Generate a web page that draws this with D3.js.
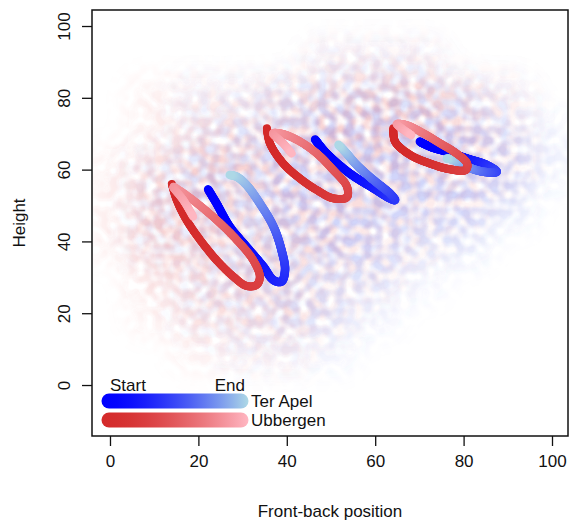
<!DOCTYPE html>
<html>
<head>
<meta charset="utf-8">
<script src="https://cdn.jsdelivr.net/npm/d3@7"></script>
<style>
  html, body { margin: 0; padding: 0; background: #fff; }
  svg { display: block; }
  text { font-family: "Liberation Sans", Arial, sans-serif; fill: #111; }
</style>
</head>
<body>
<svg id="chart" width="573" height="530"></svg>
<script>
// ---------------- data ----------------
const xTicks = [0, 20, 40, 60, 80, 100];
const yTicks = [0, 20, 40, 60, 80, 100];
const xLabel = "Front-back position";
const yLabel = "Height";
const seriesNames = ["Ter Apel", "Ubbergen"];
const legendEnds = ["Start", "End"];

// background point cloud, read as relative density on a 10-unit grid
const gridX = [0, 10, 20, 30, 40, 50, 60, 70, 80, 90, 100];
const gridY = [100, 90, 80, 70, 60, 50, 40, 30, 20, 10];
const ubbergenDensity = [
  [0, 0, 0, 0, 0, 0, 0, 0, 0, 0, 0],
  [0, 0, 0, 0, 0, 1, 1, 1, 0, 0, 0],
  [0, 1, 1, 1, 2, 2, 3, 3, 2, 1, 0],
  [0, 1, 2, 2, 2, 3, 3, 3, 2, 1, 0],
  [1, 2, 3, 3, 2, 2, 2, 2, 2, 1, 0],
  [1, 3, 3, 2, 2, 2, 2, 1, 1, 0, 0],
  [1, 3, 3, 2, 2, 2, 1, 1, 0, 0, 0],
  [0, 2, 2, 2, 2, 1, 1, 0, 0, 0, 0],
  [0, 1, 2, 2, 2, 1, 0, 0, 0, 0, 0],
  [0, 0, 1, 1, 1, 0, 0, 0, 0, 0, 0]
];
const terApelDensity = [
  [0, 0, 0, 0, 0, 0, 0, 0, 0, 0, 0],
  [0, 0, 0, 0, 0, 1, 1, 1, 0, 0, 0],
  [0, 0, 1, 1, 2, 2, 2, 2, 2, 1, 0],
  [0, 0, 1, 2, 2, 3, 3, 3, 3, 2, 1],
  [0, 1, 2, 2, 3, 3, 3, 3, 3, 3, 1],
  [0, 1, 2, 2, 3, 3, 3, 3, 3, 2, 0],
  [0, 1, 1, 2, 2, 3, 3, 2, 2, 0, 0],
  [0, 0, 1, 2, 2, 2, 2, 1, 0, 0, 0],
  [0, 0, 1, 1, 2, 2, 1, 0, 0, 0, 0],
  [0, 0, 0, 1, 1, 1, 0, 0, 0, 0, 0]
];

// mean trajectories (front-back position, height), start -> end
const terApelLoops = [
  [[22.2,54.5],[24.1,50.6],[27.1,44.1],[30.9,38.5],[34.7,33.0],[37.0,29.2],[38.8,28.8],
   [39.6,32.0],[38.8,37.6],[37.0,44.1],[33.9,50.6],[30.9,55.7],[28.7,58.0],[27.1,58.5]],
  [[46.4,68.4],[49.0,64.5],[54.3,58.9],[59.6,54.8],[63.3,52.0],[64.5,51.5],
   [63.3,53.4],[59.6,57.1],[55.8,61.3],[53.2,65.0],[51.7,66.9]],
  [[70.1,67.8],[72.4,66.4],[76.2,65.0],[80.7,63.1],[85.2,61.3],[87.5,59.4],
   [84.5,59.4],[80.7,60.8],[77.7,62.7],[76.2,63.1]]
];
const ubbergenLoops = [
  [[14.0,56.0],[15.1,51.5],[17.3,46.0],[20.4,40.4],[24.1,34.8],[27.9,30.2],[30.9,27.6],
   [33.2,27.9],[33.9,30.2],[32.4,34.8],[28.7,40.4],[24.1,46.0],[19.6,50.7],[16.2,53.8],
   [14.3,55.2],[16.6,51.5],[18.8,46.9]],
  [[35.5,71.5],[36.2,67.3],[39.2,61.7],[43.0,57.5],[46.8,54.3],[50.5,52.0],[53.6,52.3],
   [53.6,55.3],[50.5,59.9],[46.8,64.5],[43.0,67.8],[39.2,69.9],[36.9,70.1],[39.2,67.3],
   [41.1,64.5]],
  [[64.1,71.5],[64.5,67.8],[67.9,64.1],[72.4,61.7],[76.9,60.1],[80.5,59.9],[80.8,61.7],
   [78.4,64.5],[74.7,67.3],[70.9,70.1],[67.1,72.4],[64.9,72.7],[68.2,69.6]]
];

const terApelColors = ["#0000FF", "#ADD8E6"];
const ubbergenColors = ["#D42A2A", "#FFB6C1"];

// ---------------- layout ----------------
const W = 573, H = 530;
const plot = { left: 92, right: 568, top: 10, bottom: 436 };
const x = d3.scaleLinear().domain([-4.07, 103.62]).range([plot.left, plot.right]);
const y = d3.scaleLinear().domain([-14.2, 104.46]).range([plot.bottom, plot.top]);
const ramp = t => Math.pow(t, 2.4);   // colour progression along a trajectory

const svg = d3.select("#chart");
const defs = svg.append("defs");
defs.append("clipPath").attr("id", "clip").append("rect")
  .attr("x", plot.left).attr("y", plot.top)
  .attr("width", plot.right - plot.left).attr("height", plot.bottom - plot.top);

function speckleFilter(id, seed) {
  const f = defs.append("filter").attr("id", id)
    .attr("filterUnits", "userSpaceOnUse")
    .attr("x", 0).attr("y", 0).attr("width", W).attr("height", H);
  f.append("feGaussianBlur").attr("in", "SourceGraphic").attr("stdDeviation", 13).attr("result", "b");
  f.append("feTurbulence").attr("type", "fractalNoise").attr("baseFrequency", 0.11)
    .attr("numOctaves", 1).attr("seed", seed).attr("result", "n");
  f.append("feColorMatrix").attr("in", "n").attr("type", "matrix")
    .attr("values", "0 0 0 0 0  0 0 0 0 0  0 0 0 0 0  3.0 0 0 0 -0.95").attr("result", "na");
  f.append("feComposite").attr("in", "b").attr("in2", "na").attr("operator", "in");
}
speckleFilter("speckR", 7);
speckleFilter("speckB", 23);

// ---------------- point cloud ----------------
const cloudRoot = svg.append("g").attr("clip-path", "url(#clip)");
function drawDensity(grid, color, filterId, op) {
  const cells = [];
  grid.forEach((row, i) => row.forEach((v, j) => { if (v > 0) cells.push({ gx: gridX[j], gy: gridY[i], v }); }));
  cloudRoot.append("g").attr("filter", `url(#${filterId})`)
    .selectAll("ellipse").data(cells).enter().append("ellipse")
    .attr("cx", d => x(d.gx)).attr("cy", d => y(d.gy))
    .attr("rx", d => x(d.gx + 6) - x(d.gx))
    .attr("ry", d => y(d.gy) - y(d.gy + 6))
    .attr("fill", color).attr("fill-opacity", d => d.v * op);
}
drawDensity(ubbergenDensity, "#E04848", "speckR", 0.078);
drawDensity(terApelDensity, "#4858E8", "speckB", 0.078);

// ---------------- trajectories ----------------
const lineGen = d3.line().x(d => x(d[0])).y(d => y(d[1])).curve(d3.curveCatmullRom.alpha(0.5));
const trajG = svg.append("g").attr("clip-path", "url(#clip)");
function drawLoop(pts, colors, width) {
  const interp = d3.interpolateRgb(colors[0], colors[1]);
  const tmp = trajG.append("path").attr("d", lineGen(pts)).attr("fill", "none").attr("stroke", "none");
  const node = tmp.node();
  const L = node.getTotalLength();
  const N = 240;
  const samples = d3.range(N + 1).map(i => node.getPointAtLength(L * i / N));
  tmp.remove();
  const segs = d3.range(N).map(i => ({ a: samples[i], b: samples[i + 1], t: i / (N - 1) }));
  trajG.append("g").selectAll("line").data(segs).enter().append("line")
    .attr("x1", d => d.a.x).attr("y1", d => d.a.y)
    .attr("x2", d => d.b.x).attr("y2", d => d.b.y)
    .attr("stroke", d => interp(ramp(d.t)))
    .attr("stroke-width", width).attr("stroke-linecap", "round");
}
terApelLoops.forEach(p => drawLoop(p, terApelColors, 8.5));
ubbergenLoops.forEach(p => drawLoop(p, ubbergenColors, 8));

// ---------------- axes ----------------
const fs = 17;
const xAxis = d3.axisBottom(x).tickValues(xTicks).tickSize(10).tickPadding(9).tickFormat(d3.format("d"));
const gx = svg.append("g").attr("transform", `translate(0,${plot.bottom})`).call(xAxis);
gx.select(".domain").remove();
gx.selectAll("line").attr("stroke", "#111").attr("stroke-width", 1.3);
gx.selectAll("text").attr("font-size", fs).attr("font-family", "Liberation Sans, Arial, sans-serif").attr("fill", "#111");

const yAxis = d3.axisLeft(y).tickValues(yTicks).tickSize(10).tickFormat(d3.format("d"));
const gy = svg.append("g").attr("transform", `translate(${plot.left},0)`).call(yAxis);
gy.select(".domain").remove();
gy.selectAll("line").attr("stroke", "#111").attr("stroke-width", 1.3);
gy.selectAll("text").attr("font-size", fs).attr("font-family", "Liberation Sans, Arial, sans-serif").attr("fill", "#111")
  .attr("x", null).attr("dy", null)
  .attr("text-anchor", "middle")
  .attr("transform", "translate(-22,0) rotate(-90)");

svg.append("rect")
  .attr("x", plot.left).attr("y", plot.top)
  .attr("width", plot.right - plot.left).attr("height", plot.bottom - plot.top)
  .attr("fill", "none").attr("stroke", "#111").attr("stroke-width", 1.5);

svg.append("text").attr("x", (plot.left + plot.right) / 2).attr("y", 517)
  .attr("text-anchor", "middle").attr("font-size", fs).text(xLabel);
svg.append("text").attr("transform", `translate(25,${(plot.top + plot.bottom) / 2}) rotate(-90)`)
  .attr("text-anchor", "middle").attr("font-size", fs).text(yLabel);

// ---------------- legend ----------------
const lg = { x0: 109, x1: 241, yTop: 401, yBot: 420, w: 15 };
[terApelColors, ubbergenColors].forEach((c, i) => {
  const id = "lgrad" + i;
  const interp = d3.interpolateRgb(c[0], c[1]);
  const grad = defs.append("linearGradient").attr("id", id)
    .attr("gradientUnits", "userSpaceOnUse")
    .attr("x1", lg.x0 - 7).attr("x2", lg.x1 + 7).attr("y1", 0).attr("y2", 0);
  d3.range(0, 1.0001, 0.1).forEach(t => grad.append("stop").attr("offset", t).attr("stop-color", interp(Math.pow(t, 1.6))));
  const yy = i === 0 ? lg.yTop : lg.yBot;
  svg.append("line").attr("x1", lg.x0).attr("x2", lg.x1).attr("y1", yy).attr("y2", yy)
    .attr("stroke", `url(#${id})`).attr("stroke-width", lg.w).attr("stroke-linecap", "round");
  svg.append("text").attr("x", 251).attr("y", yy + 6).attr("font-size", fs).text(seriesNames[i]);
});
svg.append("text").attr("x", 110).attr("y", 391).attr("font-size", fs).text(legendEnds[0]);
svg.append("text").attr("x", 245).attr("y", 391).attr("text-anchor", "end").attr("font-size", fs).text(legendEnds[1]);
</script>
</body>
</html>
